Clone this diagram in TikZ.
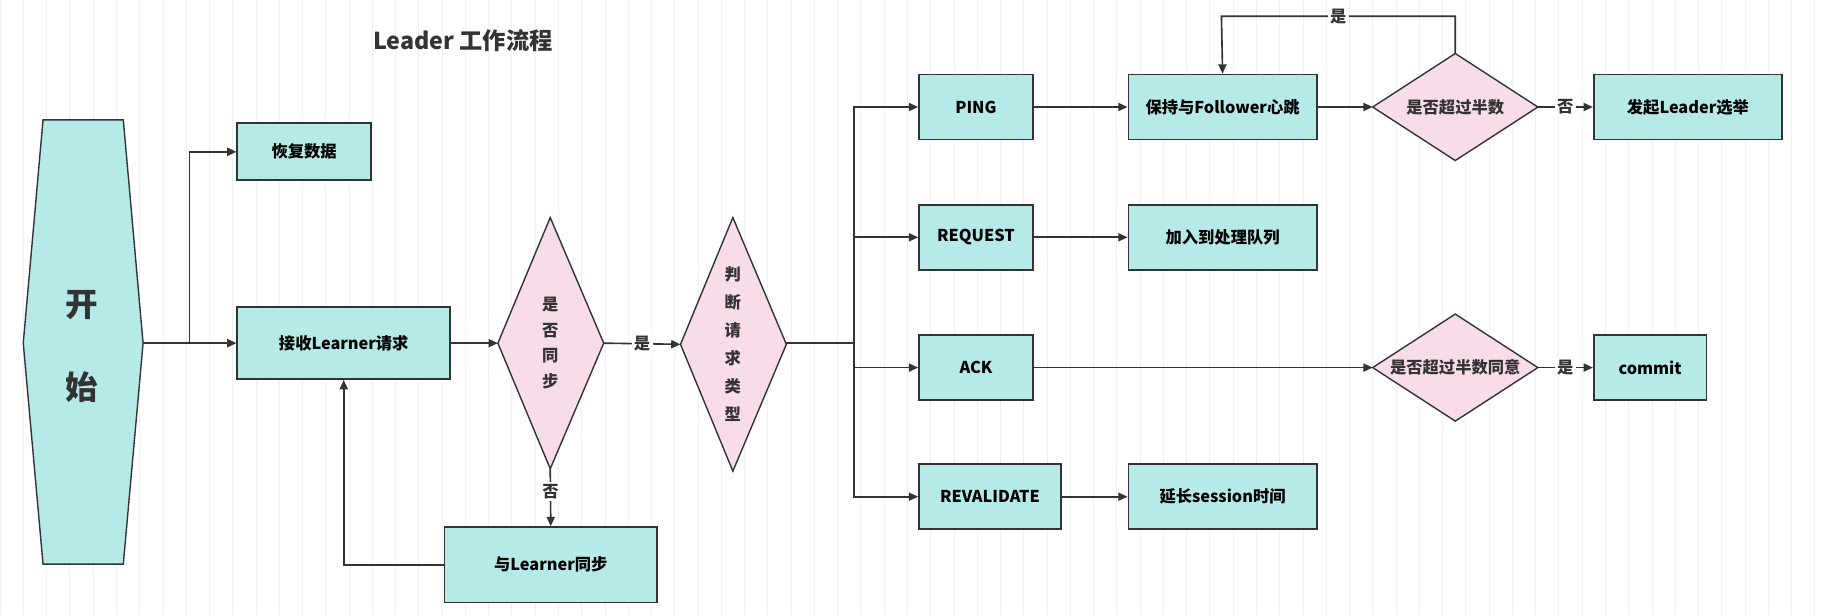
\documentclass[tikz,border=0pt]{standalone}
\usepackage{fontspec}
\setmainfont{Noto Sans CJK SC}
\usetikzlibrary{arrows.meta}
\definecolor{boxc}{HTML}{B5EAE8}
\definecolor{dia}{HTML}{F8DCE9}
\definecolor{ln}{HTML}{333333}
\begin{document}
\begin{tikzpicture}[x=0.5pt,y=-0.5pt,font=\fontsize{7}{9}\selectfont\bfseries,
  box/.style={draw=ln,line width=0.7pt,fill=boxc,inner sep=0},
  dm/.style={draw=ln,line width=0.6pt,fill=dia},
  ar/.style={draw=ln,line width=0.7pt,-{Triangle[length=4pt,width=3.5pt]}},
  ln/.style={draw=ln,line width=0.7pt},
  lab/.style={fill=white,inner sep=1pt,text=ln}]
\useasboundingbox (0,0) rectangle (1568,528.7);
\draw[black!6,line width=0.3pt] (0,0) grid[step=20] (1568,528.7);
\node[text=ln,font=\fontsize{10}{12}\selectfont\bfseries] (title) at (398,35) {Leader 工作流程};
% start
\draw[dm,fill=boxc] (37,103)--(106,103)--(123,295)--(106,485)--(37,485)--(20,295)--cycle;
\coordinate (st) at (123,295);
\node[text=ln,font=\fontsize{14}{16}\selectfont\bfseries] at (70,262) {开};
\node[text=ln,font=\fontsize{14}{16}\selectfont\bfseries] at (70,333) {始};
\node[box,minimum width=57.5pt,minimum height=24.5pt] (rec) at (261.5,130.5) {恢复数据};
\node[box,minimum width=91.5pt,minimum height=31pt] (recv) at (295.5,295) {接收Learner请求};
\draw[dm] (473,187)--(519,295)--(473,403)--(428,295)--cycle;
\node[align=center,text=ln,font=\fontsize{7}{11}\selectfont\bfseries] (d1) at (473,295) {是\\否\\同\\步};
\coordinate (d1b) at (473,403); \coordinate (d1r) at (519,295); \coordinate (d1l) at (428,295);
\draw[dm] (630,187)--(676,296)--(630,405)--(585,296)--cycle;
\node[align=center,text=ln,font=\fontsize{7}{12}\selectfont\bfseries] (d2) at (630,296) {判\\断\\请\\求\\类\\型};
\coordinate (d2l) at (585,296); \coordinate (d2r) at (676,295);
\node[box,minimum width=91.5pt,minimum height=32.5pt] (sync) at (473.5,485.5) {与Learner同步};
\node[box,minimum width=49pt,minimum height=28pt] (ping) at (839,92) {PING};
\node[box,minimum width=49pt,minimum height=28pt] (req) at (839,204) {REQUEST};
\node[box,minimum width=49pt,minimum height=28pt] (ack) at (839,316) {ACK};
\node[box,minimum width=61pt,minimum height=28pt] (rev) at (851,427) {REVALIDATE};
\node[box,minimum width=81pt,minimum height=28pt] (hb) at (1051,92) {保持与Follower心跳};
\node[box,minimum width=81pt,minimum height=28pt] (queue) at (1051,204) {加入到处理队列};
\node[box,minimum width=81pt,minimum height=28pt] (ext) at (1051,427) {延长session时间};
\draw[dm] (1251,46)--(1322,92)--(1251,138)--(1180,92)--cycle;
\node[text=ln] (d3) at (1251,92) {是否超过半数};
\coordinate (d3t) at (1251,46); \coordinate (d3l) at (1180,92); \coordinate (d3r) at (1322,92);
\draw[dm] (1251,270)--(1322,316)--(1251,362)--(1180,316)--cycle;
\node[text=ln] (d4) at (1251,316) {是否超过半数同意};
\coordinate (d4l) at (1180,316); \coordinate (d4r) at (1322,316);
\node[box,minimum width=81pt,minimum height=28pt] (elec) at (1451,92) {发起Leader选举};
\node[box,minimum width=48.5pt,minimum height=28pt] (commit) at (1418.5,316) {commit};
% connectors
\draw[ar] (st) -- (recv.west);
\draw[ar] (163,295) |- (rec.west);
\draw[ar] (recv.east) -- (d1l);
\draw[ar] (d1r) -- node[lab]{是} (d2l);
\draw[ar] (d1b) -- node[lab,pos=0.4]{否} (sync.north);
\draw[ar] (sync.west) -| (recv.south);
\draw[ln] (d2r) -- (734,295);
\draw[ar] (734,295) |- (ping.west);
\draw[ar] (734,295) |- (req.west);
\draw[ar] (734,295) |- (ack.west);
\draw[ar] (734,295) |- (rev.west);
\draw[ar] (ping.east) -- (hb.west);
\draw[ar] (req.east) -- (queue.west);
\draw[ar] (rev.east) -- (ext.west);
\draw[ar] (hb.east) -- (d3l);
\draw[ar] (d3r) -- node[lab]{否} (elec.west);
\draw[ar] (d3t) -- (1251,14) -- node[lab]{是} (1050,14) -- (hb.north);
\draw[ar] (ack.east) -- (d4l);
\draw[ar] (d4r) -- node[lab]{是} (commit.west);
\end{tikzpicture}
\end{document}
